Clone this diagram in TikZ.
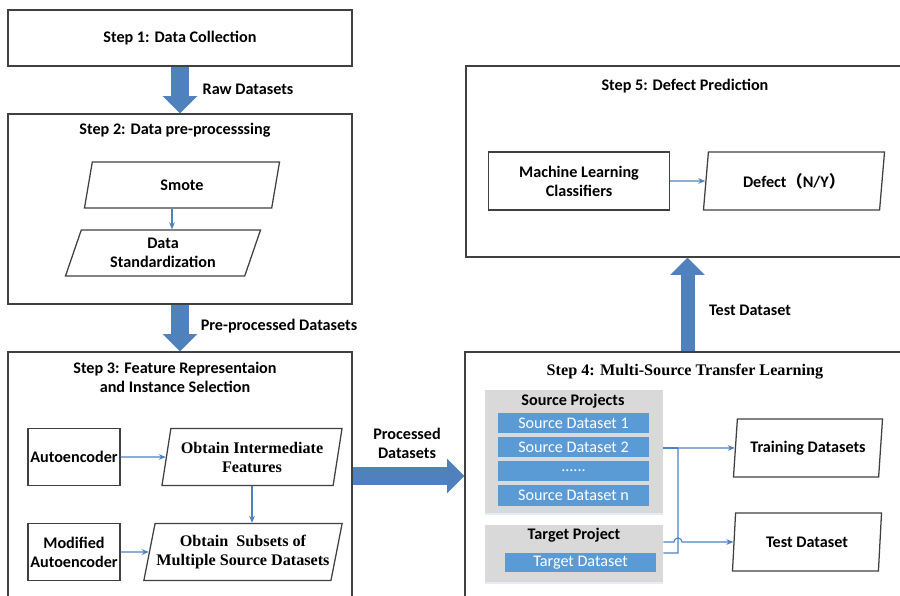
\documentclass[tikz,border=0pt]{standalone}
\usepackage{fontspec}
\setmainfont{Carlito}
\newfontfamily\timesfont{Liberation Serif}
\newfontfamily\cjk{Noto Sans CJK SC}
\usetikzlibrary{arrows.meta,positioning,shapes.geometric,shadows}
\definecolor{arrblue}{RGB}{79,129,189}
\definecolor{barblue}{RGB}{91,155,213}
\definecolor{boxgray}{RGB}{217,217,217}
\definecolor{linegray}{RGB}{64,64,64}

\begin{document}
\begin{tikzpicture}[x=0.025cm, y=-0.025cm,
    every node/.style={font=\fontsize{11.5}{13.5}\selectfont\bfseries, align=center, inner sep=1pt},
    times/.style={font=\timesfont\fontsize{11.5}{13.5}\selectfont\bfseries},
    stepbox/.style={draw=linegray, line width=0.9pt},
    cbox/.style={draw=linegray, line width=0.9pt},
    para/.style={draw=linegray, line width=0.9pt, trapezium, trapezium stretches body,
                 trapezium left angle=#1, trapezium right angle={180-#1}},
    graybox/.style={fill=boxgray, minimum width=4.45cm,
                    drop shadow={shadow xshift=0pt, shadow yshift=-1.5pt, opacity=0.3, fill=arrblue!50}},
    bar/.style={fill=barblue, text=white, font=\fontsize{11.5}{13.5}\selectfont,
                minimum width=3.775cm, minimum height=0.5cm},
    bigarr/.style={arrblue, line width=0.43cm, -{Triangle[width=0.84cm, length=0.43cm]}},
    arr/.style={arrblue, line width=0.8pt, -{Stealth[length=5pt, width=4pt]}}
  ]
  \useasboundingbox (0,0) rectangle (900,596);

  % step boxes
  \node[stepbox, minimum width=8.6cm, minimum height=1.4cm] (step1) at (180,38) {Step 1: Data Collection};
  \node[stepbox, minimum width=8.6cm, minimum height=4.75cm] (step2) at (180,209) {};
  \node[stepbox, minimum width=8.6cm, minimum height=6.45cm] (step3) at (180,481) {};
  \node[stepbox, minimum width=11.125cm, minimum height=6.45cm] (step4) at (687.5,481) {};
  \node[stepbox, minimum width=11.1cm, minimum height=4.775cm] (step5) at (688,161.5) {};

  \node (t2) at (175,130) {Step 2: Data pre-processsing};
  \node (t3) at (175,377) {Step 3: Feature Representaion\\and Instance Selection};
  \node[times] (t4) at (685,372) {Step 4: Multi-Source Transfer Learning};
  \node (t5) at (685,86) {Step 5: Defect Prediction};

  % step 2
  \node[para=60, minimum width=4.875cm, minimum height=1.15cm] (smote) at (182,185) {Smote};
  \node[para=64, minimum width=4.875cm, minimum height=1.15cm] (std) at (163,253) {Data\\Standardization};
  \draw[arr] ([xshift=-0.25cm]smote.south) -- ([xshift=-0.25cm]smote.south |- std.north);

  % step 3
  \node[cbox, minimum width=2.3cm, minimum height=1.425cm] (auto) at (74,457) {Autoencoder};
  \node[cbox, minimum width=2.3cm, minimum height=1.425cm] (modauto) at (74,552) {Modified\\Autoencoder};
  \node[para=75, times, minimum width=4.5cm, minimum height=1.425cm] (inter) at (252,457) {Obtain Intermediate\\Features};
  \node[para=73, times, minimum width=4.875cm, minimum height=1.425cm] (subsets) at (243,552) {Obtain~ Subsets of\\Multiple Source Datasets};
  \draw[arr] (auto) -- (inter);
  \draw[arr] (inter.south) -- (inter.south |- subsets.north);
  \draw[arr] (modauto) -- (subsets);

  % step 5
  \node[cbox, minimum width=4.525cm, minimum height=1.45cm] (ml) at (579,181) {Machine Learning\\Classifiers};
  \node[para=75, minimum width=4.525cm, minimum height=1.45cm] (defect) at (794,181) {Defect{\cjk （}N/Y{\cjk ）}};
  \draw[arr] (ml) -- (defect);

  % step 4
  \node[graybox, minimum height=3.075cm] (srcproj) at (574,451.5) {};
  \node (srctitle) at (573,401) {Source Projects};
  \node[bar] (src1) at (573.5,423) {Source Dataset 1};
  \node[bar] (src2) at (573.5,447) {Source Dataset 2};
  \node[bar] (srcdots) at (573.5,471) {......};
  \node[bar] (srcn) at (573.5,495.5) {Source Dataset n};
  \node[graybox, minimum height=1.425cm] (tgtproj) at (574,553.5) {};
  \node (tgttitle) at (574,535) {Target Project};
  \node[bar, minimum height=0.475cm] (tgt) at (580.5,562.5) {Target Dataset};
  \node[para=77, minimum width=3.725cm, minimum height=1.45cm] (train) at (808,448) {Training Datasets};
  \node[para=77, minimum width=3.725cm, minimum height=1.45cm] (test) at (807,542) {Test Dataset};

  \coordinate (j1) at (678,448);
  \coordinate (j2) at (678,553);
  \coordinate (hop) at (674,542);
  \draw[arrblue, line width=0.8pt] (srcproj.east |- j1) -- (j1);
  \draw[arr] (tgtproj.east |- j2) -- (j2) -- (j1) -- (train);
  \draw[arr] (tgtproj.east |- hop) -- (hop) arc[start angle=180, end angle=0, radius=0.1cm] -- (test);

  % big arrows
  \draw[bigarr] (step1.south) -- (step2.north);
  \node (raw) at (248,89) {Raw Datasets};
  \draw[bigarr] (step2.south) -- (step3.north);
  \node (pre) at (279,326) {Pre-processed Datasets};
  \coordinate (pd) at (400,476);
  \draw[bigarr] (step3.east |- pd) -- (step4.west |- pd);
  \node (proc) at (407,443) {Processed\\Datasets};
  \draw[bigarr, line width=0.35cm] (step4.north) -- (step4.north |- step5.south);
  \node (testlbl) at (750,310) {Test Dataset};
\end{tikzpicture}
\end{document}
